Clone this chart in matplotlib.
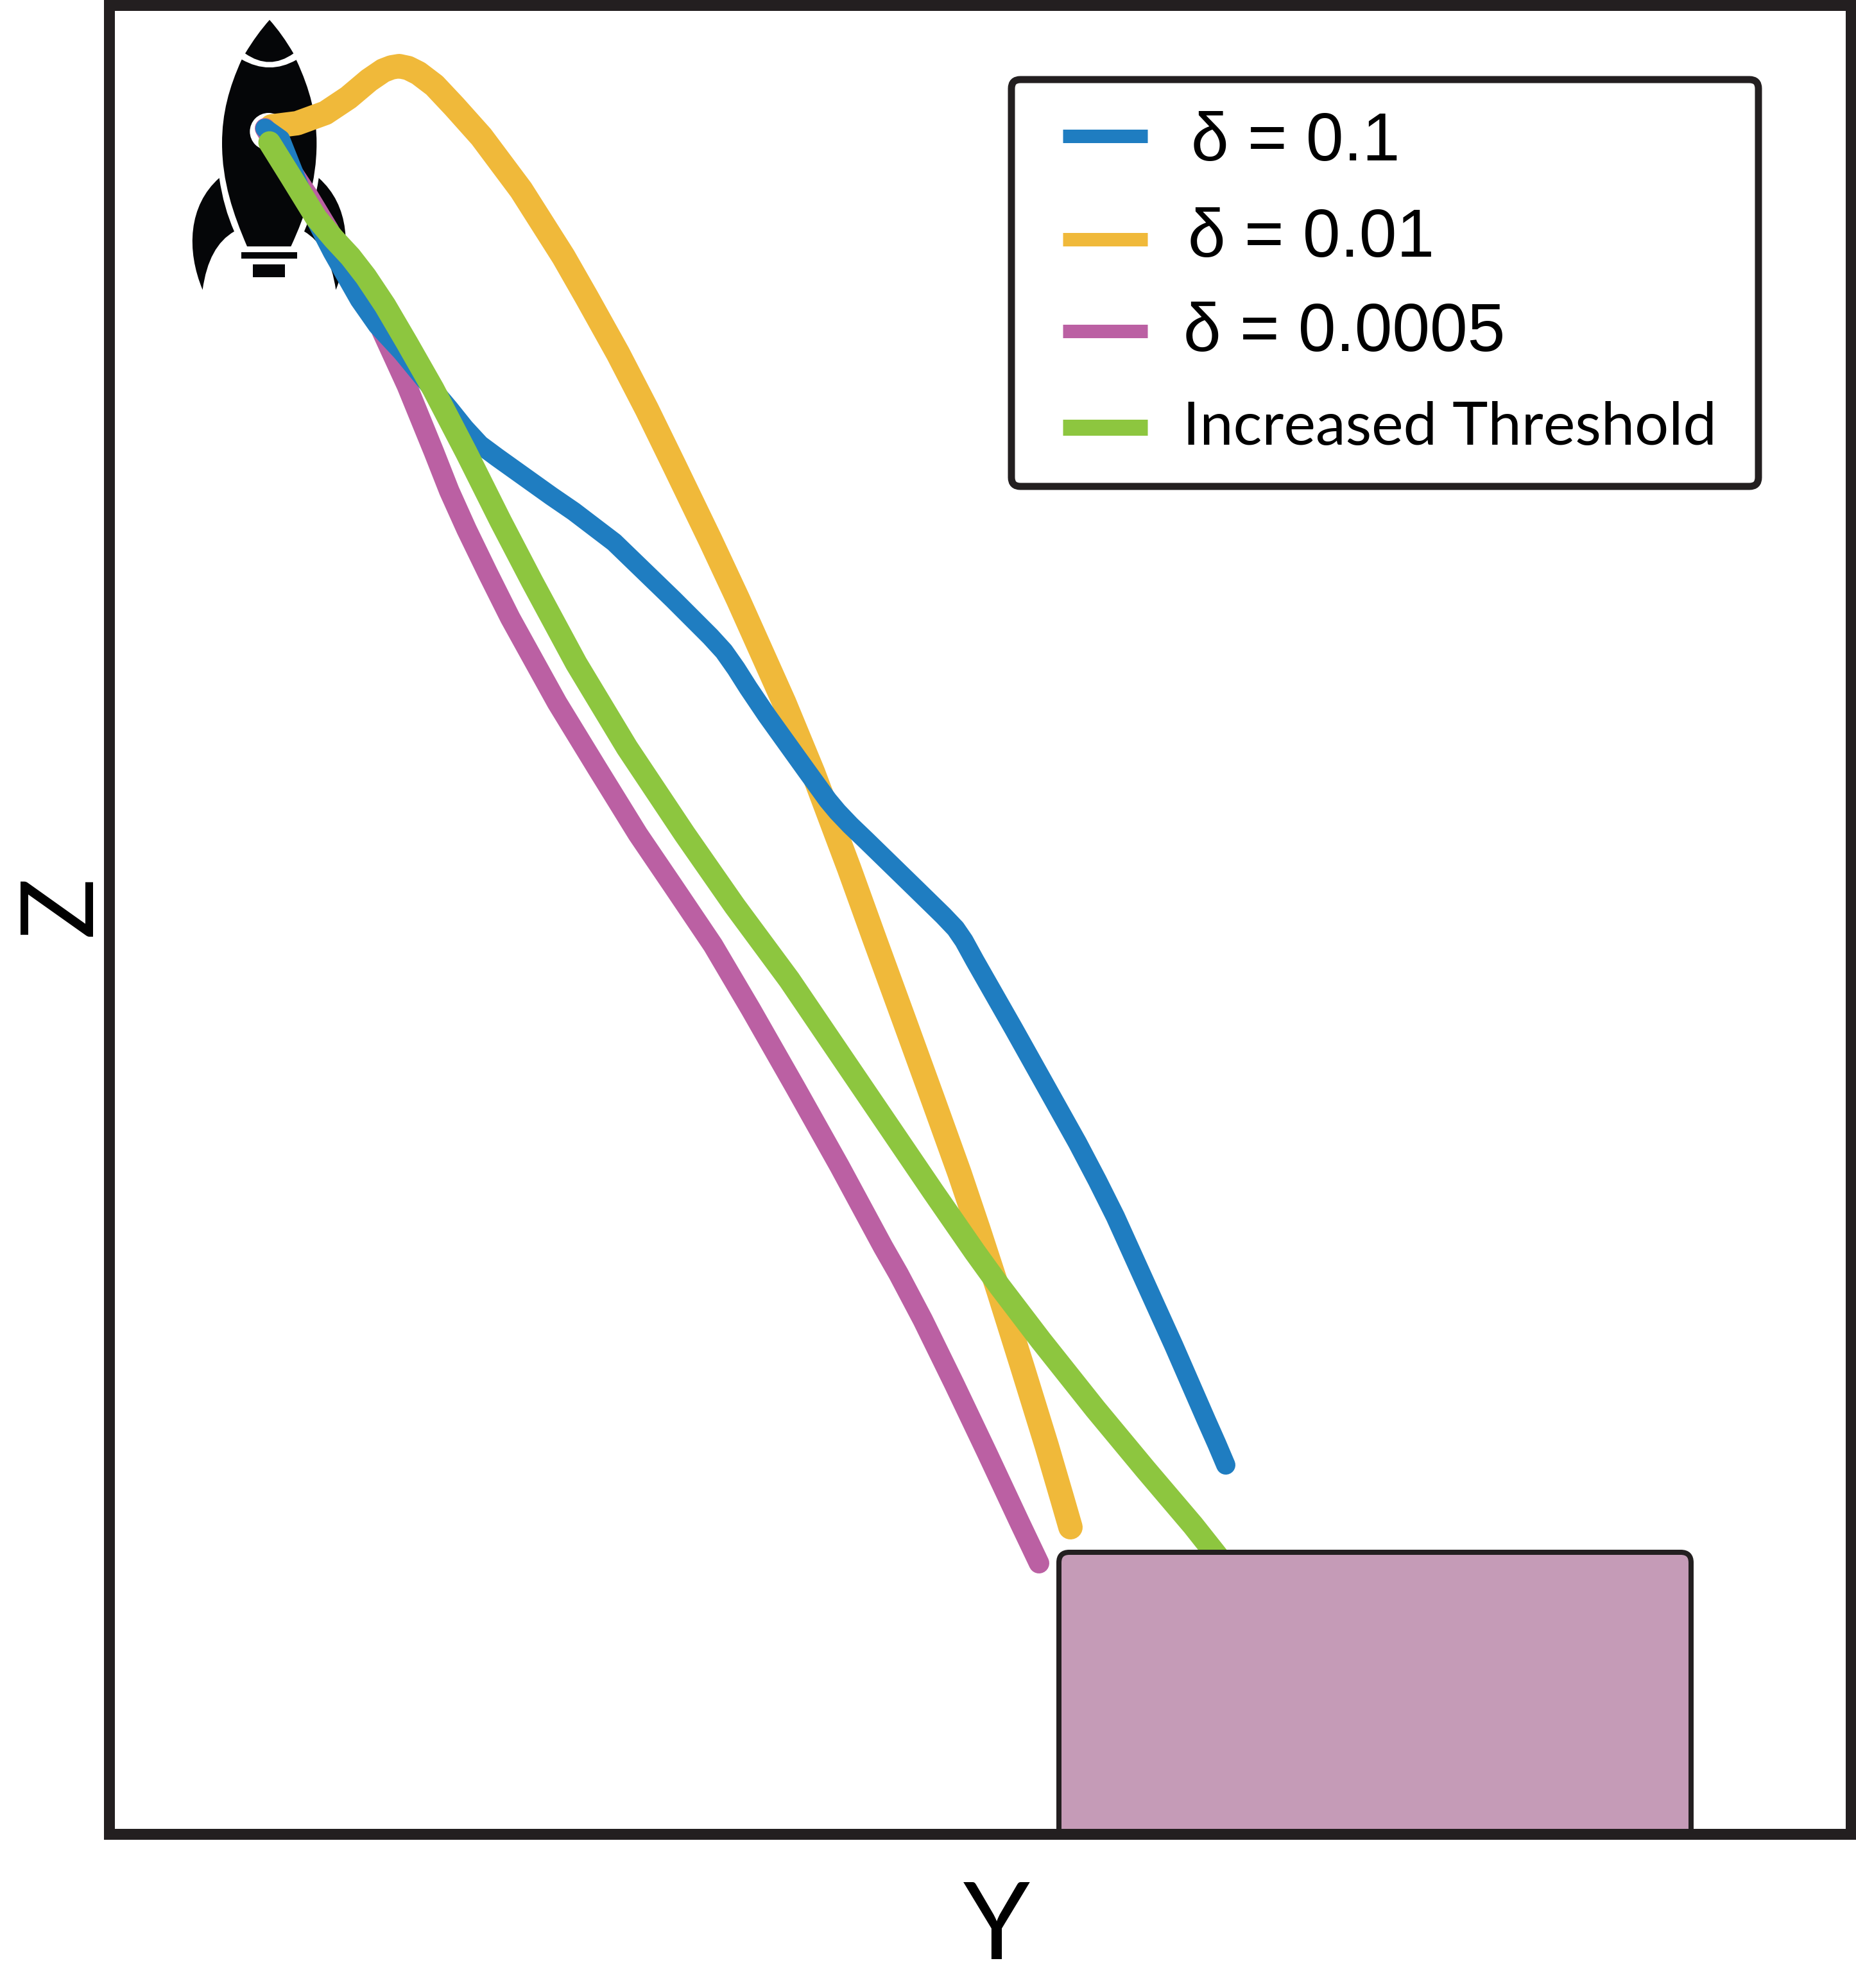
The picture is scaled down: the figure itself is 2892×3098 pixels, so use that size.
import matplotlib
matplotlib.use('Agg')
import matplotlib.pyplot as plt
import matplotlib.patches as patches
from matplotlib.path import Path

# curve data (horizontal Y, vertical Z, picture units)
blue_y = [413, 437, 470, 518, 560, 588, 626, 663, 700, 724, 748, 775, 859, 894, 957, 1049, 1107, 1128, 1147, 1166,
          1195, 1256, 1290, 1305, 1325, 1349, 1426, 1470, 1489, 1502, 1519, 1580, 1679, 1710, 1738, 1776, 1829, 1880, 1896, 1910]
blue_z = [200, 217, 300, 393, 467, 507, 548, 593, 637, 667, 693, 713, 773, 797, 845, 934, 992, 1015, 1042, 1072,
          1115, 1200, 1247, 1265, 1286, 1309, 1384, 1427, 1447, 1466, 1497, 1604, 1781, 1840, 1896, 1980, 2097, 2214, 2250, 2283]
yellow_y = [423, 463, 507, 543, 575, 597, 610, 622, 636, 652, 677, 708, 750, 812, 878, 914, 963, 1008, 1050, 1107,
            1150, 1222, 1267, 1323, 1363, 1409, 1454, 1495, 1525, 1556, 1593, 1631, 1655, 1668]
yellow_z = [197, 192, 176, 152, 125, 110, 105, 103, 106, 114, 133, 166, 213, 296, 400, 463, 551, 638, 724, 842,
            934, 1095, 1204, 1353, 1464, 1590, 1714, 1828, 1917, 2012, 2130, 2253, 2335, 2380]
purple_y = [413, 440, 480, 512, 555, 590, 634, 676, 700, 727, 760, 795, 868, 931, 994, 1049, 1111, 1170, 1239, 1308,
            1376, 1400, 1438, 1487, 1538, 1589, 1619]
purple_z = [200, 245, 305, 358, 440, 505, 601, 704, 765, 825, 893, 963, 1095, 1198, 1300, 1381, 1473, 1573, 1694, 1817,
            1943, 1985, 2057, 2157, 2264, 2373, 2436]
green_y = [420, 453, 493, 520, 546, 570, 600, 634, 675, 727, 780, 829, 898, 977, 1067, 1145, 1230, 1310, 1382,
           1454, 1519, 1558, 1622, 1707, 1785, 1859, 1897]
green_z = [222, 275, 340, 372, 400, 431, 476, 534, 606, 706, 812, 906, 1034, 1165, 1300, 1412, 1527, 1645, 1751,
           1857, 1951, 2005, 2089, 2196, 2290, 2377, 2425]

labels = ['δ = 0.1', 'δ = 0.01', 'δ = 0.0005', 'Increased Threshold']
colors = ['#1F7DC1', '#F0B93A', '#BB60A3', '#8DC63F']
widths = [30, 38, 32, 35]  # px

PX = 0.72  # points per pixel at dpi 100
FRAME = '#231F20'
ROCKET = '#050608'


def zoomed(x, y):
    # rocket was traced on a 3x crop with origin (250, 0)
    return (250 + x / 3, y / 3)


def add_shape(ax, steps, color):
    verts = []
    codes = []
    for code, x, y in steps:
        verts.append(zoomed(x, y))
        codes.append(code)
    ax.add_patch(patches.PathPatch(Path(verts, codes), facecolor=color, edgecolor='none', zorder=1))


def draw_rocket(ax):
    M, L, C3, C4 = Path.MOVETO, Path.LINETO, Path.CURVE3, Path.CURVE4
    # nose
    add_shape(ax, [(M, 510, 93), (C3, 570, 160), (C3, 622, 250), (C3, 510, 330), (C3, 396, 250),
                   (C3, 450, 160), (C3, 510, 93)], ROCKET)
    # body
    add_shape(ax, [(M, 380, 278), (C3, 510, 352), (C3, 635, 280),
                   (C4, 700, 420), (C4, 730, 540), (C4, 730, 670),
                   (C4, 730, 850), (C4, 680, 1000), (C4, 610, 1152),
                   (L, 405, 1152),
                   (C4, 340, 1000), (C4, 288, 850), (C4, 288, 670),
                   (C4, 288, 530), (C4, 320, 410), (C4, 380, 278)], ROCKET)
    # fins
    add_shape(ax, [(M, 275, 832), (C4, 130, 960), (C4, 120, 1170), (C4, 197, 1355),
                   (C3, 225, 1150), (C3, 345, 1082), (C3, 295, 970), (C3, 275, 832)], ROCKET)
    add_shape(ax, [(M, 740, 832), (C4, 885, 960), (C4, 895, 1170), (C4, 820, 1355),
                   (C3, 790, 1150), (C3, 672, 1082), (C3, 720, 970), (C3, 740, 832)], ROCKET)
    # exhaust bars
    add_shape(ax, [(M, 378, 1180), (L, 638, 1180), (L, 638, 1208), (L, 378, 1208), (L, 378, 1180)], ROCKET)
    add_shape(ax, [(M, 433, 1235), (L, 583, 1235), (L, 583, 1295), (L, 433, 1295), (L, 433, 1235)], ROCKET)
    # window
    ax.add_patch(patches.Circle(zoomed(505, 615), 29, facecolor='white', edgecolor='none', zorder=1.5))


plt.rcParams['font.family'] = ['Lato', 'Noto Sans', 'DejaVu Sans']

W, H = 2892, 3098
fig = plt.figure(figsize=(W / 100, H / 100), dpi=100, facecolor='white')
left, right, top, bottom = 170, 2884, 8, 2858
ax = fig.add_axes([left / W, 1 - bottom / H, (right - left) / W, (bottom - top) / H])
ax.set_xlim(left, right)
ax.set_ylim(bottom, top)
ax.set_xticks([])
ax.set_yticks([])
for s in ax.spines.values():
    s.set_linewidth(17 * PX)
    s.set_color(FRAME)
    s.set_zorder(6)

draw_rocket(ax)

series = [(blue_y, blue_z), (yellow_y, yellow_z), (purple_y, purple_z), (green_y, green_z)]
# yellow goes below the others, then purple, blue, green on top
orders = [3.2, 3.0, 3.1, 3.3]
for (ys, zs), c, w, o in zip(series, colors, widths, orders):
    ax.plot(ys, zs, color=c, lw=w * PX, solid_capstyle='round', solid_joinstyle='round', zorder=o)

# landing pad
pad = patches.FancyBboxPatch((1650, 2419), 985, 600, boxstyle='round,pad=0,rounding_size=16',
                             facecolor='#C59BB7', edgecolor=FRAME, lw=8 * PX, zorder=4)
ax.add_patch(pad)

# legend, built by hand since each row has its own size
box = patches.FancyBboxPatch((1576, 124), 1164, 634, boxstyle='round,pad=0,rounding_size=14',
                             facecolor='white', edgecolor=FRAME, lw=11 * PX, zorder=5)
ax.add_patch(box)
line_z = [212, 373, 516, 666]
line_w = [21, 21, 21, 25]
text_x = [1856, 1851, 1844, 1843]
text_z = [250, 400, 547, 693]
text_size = [76, 76, 76, 67.5]
text_font = ['Liberation Sans', 'Liberation Sans', 'Liberation Sans', 'Lato']
for lab, c, lz, lw, tx, tz, ts, tf in zip(labels, colors, line_z, line_w, text_x, text_z, text_size, text_font):
    ax.plot([1656, 1788], [lz, lz], color=c, lw=lw * PX, solid_capstyle='butt', zorder=5.5)
    ax.text(tx, tz, lab, fontsize=ts, family=tf, color='black', ha='left', va='baseline', zorder=5.5)

ax.set_xlabel('Y', fontsize=120, color='black', va='baseline', ha='center')
ax.xaxis.set_label_coords(1553, 3053, transform=ax.transData)
ax.set_ylabel('Z', fontsize=114, color='black', rotation=90, va='baseline', ha='center')
ax.yaxis.set_label_coords(142, 1411, transform=ax.transData)

fig.savefig('out.png', dpi=100)
